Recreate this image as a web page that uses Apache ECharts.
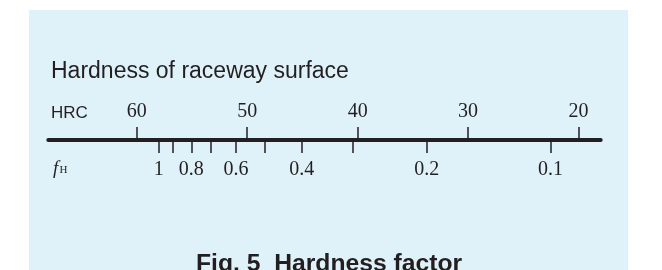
<!DOCTYPE html>
<html>
<head>
<meta charset="utf-8">
<script src="https://cdn.jsdelivr.net/npm/echarts@6/dist/echarts.min.js"></script>
<style>
  html, body { margin: 0; padding: 0; background: #fff; }
  .panel { position: absolute; left: 29px; top: 10px; width: 599px; height: 260px; background: #dff2fa; }
  #chart { position: absolute; left: 0; top: 0; width: 662px; height: 270px; }
</style>
</head>
<body>
<div class="panel"></div>
<div id="chart"></div>
<script>
// HRC scale (upper side of the line)
const hrcTicks = [60, 50, 40, 30, 20]
const hrcMin = 18
const hrcMax = 68

// hardness factor fH (lower side), placed at the HRC it corresponds to
const fhValues = [1, 0.9, 0.8, 0.7, 0.6, 0.5, 0.4, 0.3, 0.2, 0.1]
const fhAtHrc = [58.0, 56.7, 55.05, 53.3, 51.0, 48.4, 45.05, 40.4, 33.75, 22.55]
const fhLabeled = [1, 0.8, 0.6, 0.4, 0.2, 0.1]

const ink = '#231f20'
const serif = '"Liberation Serif", "DejaVu Serif", serif'
const sans = '"Liberation Sans", Arial, sans-serif'

const fhLabelPos = fhLabeled.map(v => fhAtHrc[fhValues.indexOf(v)])
const fhText = v => {
  const i = fhAtHrc.indexOf(v)
  return i < 0 ? '' : String(fhValues[i])
}

const lineY = 140

const chart = echarts.init(document.getElementById('chart'))
chart.setOption({
  backgroundColor: 'transparent',
  animation: false,
  // two identical grids whose bottom edge is the line; one axis each
  grid: [
    { left: 48.3, right: 61.3, top: lineY - 100, height: 100 },
    { left: 48.3, right: 61.3, top: lineY - 100, height: 100 }
  ],
  xAxis: [
    {
      gridIndex: 0,
      type: 'value',
      position: 'bottom',
      min: hrcMin,
      max: hrcMax,
      inverse: true,
      axisLine: { show: true, lineStyle: { color: ink, width: 4 } },
      axisTick: { show: true, inside: true, length: 13, customValues: hrcTicks, lineStyle: { color: ink, width: 1.5 } },
      axisLabel: {
        inside: true,
        customValues: hrcTicks,
        margin: 18.5,
        color: ink,
        fontFamily: serif,
        fontSize: 20
      },
      splitLine: { show: false }
    },
    {
      gridIndex: 1,
      type: 'value',
      position: 'bottom',
      min: hrcMin,
      max: hrcMax,
      inverse: true,
      axisLine: { show: false },
      axisTick: { show: true, length: 13, customValues: fhAtHrc, lineStyle: { color: ink, width: 1.5 } },
      axisLabel: {
        customValues: fhLabelPos,
        formatter: fhText,
        margin: 19.5,
        color: ink,
        fontFamily: serif,
        fontSize: 20
      },
      splitLine: { show: false }
    }
  ],
  yAxis: [
    { gridIndex: 0, type: 'value', show: false, min: 0, max: 1 },
    { gridIndex: 1, type: 'value', show: false, min: 0, max: 1 }
  ],
  series: [
    { type: 'line', xAxisIndex: 0, yAxisIndex: 0, data: [], silent: true },
    { type: 'line', xAxisIndex: 1, yAxisIndex: 1, data: [], silent: true }
  ],
  graphic: [
    {
      type: 'text', left: 51, top: 60.5,
      style: { text: 'Hardness of raceway surface', fill: ink, font: '23px ' + sans }
    },
    {
      type: 'text', left: 51, top: 104.5,
      style: { text: 'HRC', fill: ink, font: '17px ' + sans }
    },
    {
      type: 'text', left: 53, top: 159.5,
      style: { text: 'f', fill: ink, font: 'italic 19px ' + serif }
    },
    {
      type: 'text', left: 59.5, top: 164.5,
      style: { text: 'H', fill: ink, font: '11px ' + serif }
    },
    {
      type: 'text', left: 196, top: 252,
      style: { text: 'Fig. 5  Hardness factor', fill: ink, font: 'bold 24.7px ' + sans }
    }
  ]
})
</script>
</body>
</html>
